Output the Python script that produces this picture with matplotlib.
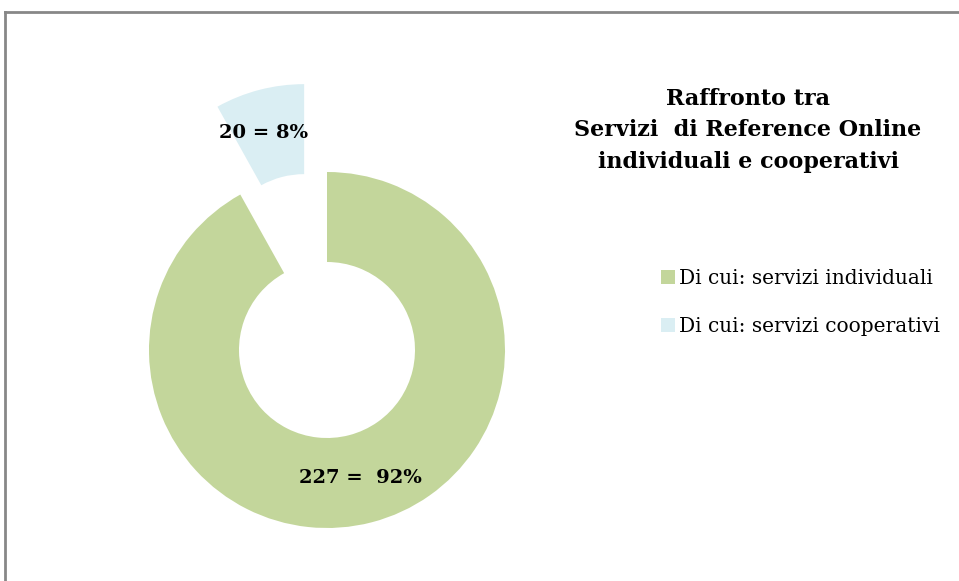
import matplotlib.pyplot as plt
from matplotlib.lines import Line2D

# data
labels = ['Di cui: servizi individuali', 'Di cui: servizi cooperativi']
values = [227, 20]
percent = [92, 8]
value_labels = ['227 =  92%', '20 = 8%']
colors = ['#C3D69B', '#DAEEF3']

plt.rcParams['font.family'] = ['DejaVu Serif']

W, H = 959, 581
fig = plt.figure(figsize=(W / 100, H / 100), dpi=100)
ax = fig.add_axes([0, 0, 1, 1])

# the axes work in pixel units, y going up
R = 178
cx, cy = 327, H - 350
wedges, _ = ax.pie(values, colors=colors, radius=R, center=(cx, cy),
                   startangle=90, counterclock=False,
                   explode=[0, 0.51 * R],
                   wedgeprops=dict(width=90, linewidth=0))
ax.set_xlim(0, W)
ax.set_ylim(0, H)
ax.set_aspect('equal')
ax.axis('off')

ax.text(360, H - 478, value_labels[0], ha='center', va='center',
        fontsize=14, fontweight='bold')
ax.text(264, H - 133, value_labels[1], ha='center', va='center',
        fontsize=14, fontweight='bold')

fig.text(748 / W, 1 - 88 / H,
         'Raffronto tra\nServizi  di Reference Online\nindividuali e cooperativi',
         ha='center', va='top', multialignment='center',
         fontsize=16, fontweight='bold', linespacing=1.55)

ax.legend(wedges, labels, loc='upper left',
          bbox_to_anchor=(643 / W, 1 - 251 / H), bbox_transform=fig.transFigure,
          frameon=False, fontsize=14.5, handlelength=0.7, handleheight=0.7,
          handletextpad=0.2, labelspacing=1.45)

# outer frame (only left and top edges are visible)
fig.add_artist(Line2D([5 / W, 5 / W], [0, 1 - 12 / H], transform=fig.transFigure,
                      color='#878787', lw=2))
fig.add_artist(Line2D([5 / W, 1], [1 - 12 / H, 1 - 12 / H], transform=fig.transFigure,
                      color='#878787', lw=2))

fig.savefig('out.png', dpi=100)
